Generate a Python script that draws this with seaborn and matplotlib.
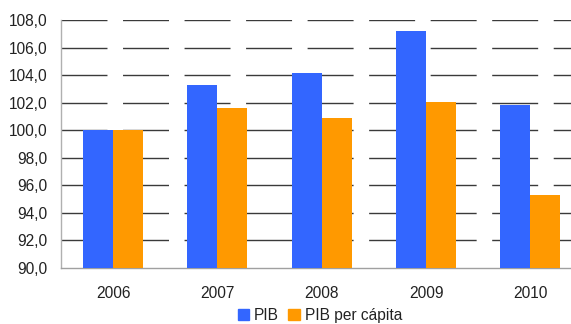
import matplotlib
matplotlib.use("Agg")
import matplotlib.pyplot as plt
import seaborn as sns
import pandas as pd
from matplotlib.patches import Patch

years = ["2006", "2007", "2008", "2009", "2010"]
pib = [100.0, 103.3, 104.15, 107.2, 101.8]
pib_per_capita = [100.0, 101.6, 100.9, 102.05, 95.3]
series_names = ["PIB", "PIB per cápita"]
colors = ["#3366FF", "#FF9900"]
yticks = [90, 92, 94, 96, 98, 100, 102, 104, 106, 108]

df = pd.DataFrame({
    "year": years * 2,
    "value": pib + pib_per_capita,
    "serie": [series_names[0]] * len(years) + [series_names[1]] * len(years),
})

sns.set_theme(style="white")
plt.rcParams["font.family"] = ["Liberation Sans", "DejaVu Sans"]

fig = plt.figure(figsize=(5.71, 3.24), dpi=100)
W, H = 571, 324
ax = fig.add_axes([61 / W, (324 - 268) / H, 521.5 / W, 248 / H])

sns.barplot(data=df, x="year", y="value", hue="serie", palette=colors,
            width=0.575, saturation=1, ax=ax, legend=False, zorder=3,
            linewidth=0)

ax.set_ylim(90, 108)
ax.set_xlim(-0.5, 4.5)
ax.set_yticks(yticks)
ax.set_yticklabels([f"{v:.1f}".replace(".", ",") for v in yticks])
ax.set_xlabel("")
ax.set_ylabel("")

for v in yticks[1:]:
    ax.axhline(v, color="#3a3a3a", lw=1.0, linestyle=(0, (33.1, 11.2)), zorder=1)

for s in ["top", "right"]:
    ax.spines[s].set_visible(False)
ax.spines["left"].set_color("#b0b0b0")
ax.spines["bottom"].set_color("#a0a0a0")
ax.spines["left"].set_linewidth(1)
ax.spines["bottom"].set_linewidth(1)

ax.tick_params(axis="both", length=0, labelsize=11.2, colors="#222222")
ax.tick_params(axis="y", pad=10)
ax.tick_params(axis="x", pad=13)

handles = [Patch(color=c, label=n) for c, n in zip(colors, series_names)]
fig.legend(handles=handles, loc="center", bbox_to_anchor=(320 / W, 1 - 315.5 / H),
           ncol=2, frameon=False, fontsize=11.2, handlelength=0.75,
           handleheight=0.75, handletextpad=0.3, columnspacing=0.6,
           labelcolor="#222222", borderpad=0.1)

fig.savefig("out.png", dpi=100)
